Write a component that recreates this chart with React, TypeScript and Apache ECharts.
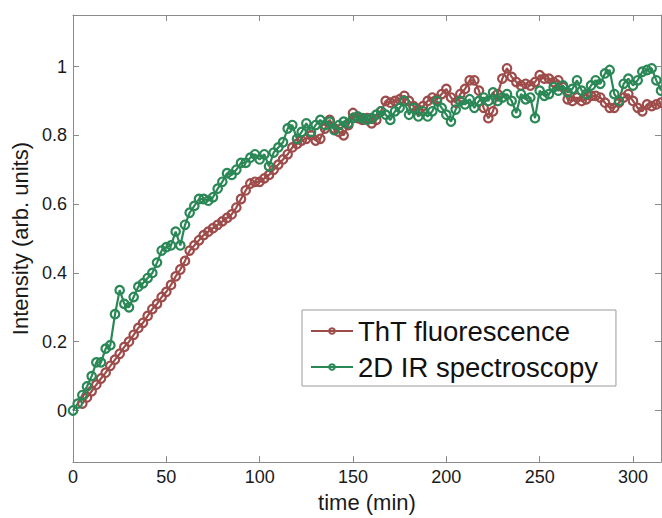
import React, { useEffect, useRef } from "react";
import * as echarts from "echarts";

// time samples (min)
const times: number[] = [
  0, 2.5, 5, 7.5, 10, 12.5, 15, 17.5, 20, 22.5,
  25, 27.5, 30, 32.5, 35, 37.5, 40, 42.5, 45, 47.5,
  50, 52.5, 55, 57.5, 60, 62.5, 65, 67.5, 70, 72.5,
  75, 77.5, 80, 82.5, 85, 87.5, 90, 92.5, 95, 97.5,
  100, 102.5, 105, 107.5, 110, 112.5, 115, 117.5, 120, 122.5,
  125, 127.5, 130, 132.5, 135, 137.5, 140, 142.5, 145, 147.5,
  150, 152.5, 155, 157.5, 160, 162.5, 165, 167.5, 170, 172.5,
  175, 177.5, 180, 182.5, 185, 187.5, 190, 192.5, 195, 197.5,
  200, 202.5, 205, 207.5, 210, 212.5, 215, 217.5, 220, 222.5,
  225, 227.5, 230, 232.5, 235, 237.5, 240, 242.5, 245, 247.5,
  250, 252.5, 255, 257.5, 260, 262.5, 265, 267.5, 270, 272.5,
  275, 277.5, 280, 282.5, 285, 287.5, 290, 292.5, 295, 297.5,
  300, 302.5, 305, 307.5, 310, 312.5, 315,
];

// 2D IR spectroscopy (starts at t = 0)
const irValues: number[] = [
  0, 0.02, 0.045, 0.07, 0.1, 0.14, 0.14, 0.18, 0.19, 0.28,
  0.35, 0.31, 0.3, 0.33, 0.36, 0.37, 0.385, 0.4, 0.43, 0.465,
  0.475, 0.48, 0.52, 0.48, 0.54, 0.575, 0.595, 0.615, 0.615, 0.61,
  0.62, 0.645, 0.665, 0.69, 0.685, 0.7, 0.72, 0.72, 0.735, 0.745,
  0.73, 0.745, 0.71, 0.75, 0.765, 0.78, 0.82, 0.83, 0.79, 0.81,
  0.835, 0.81, 0.83, 0.845, 0.83, 0.84, 0.815, 0.83, 0.84, 0.835,
  0.85, 0.855, 0.85, 0.845, 0.85, 0.86, 0.87, 0.86, 0.845, 0.87,
  0.88, 0.9, 0.86, 0.88, 0.855, 0.87, 0.855, 0.87, 0.9, 0.88,
  0.86, 0.84, 0.875, 0.9, 0.89, 0.905, 0.88, 0.9, 0.91, 0.9,
  0.925, 0.9, 0.91, 0.92, 0.9, 0.865, 0.92, 0.905, 0.91, 0.85,
  0.93, 0.915, 0.92, 0.94, 0.93, 0.945, 0.925, 0.935, 0.96, 0.93,
  0.92, 0.945, 0.96, 0.95, 0.98, 0.99, 0.92, 0.9, 0.95, 0.965,
  0.945, 0.96, 0.985, 0.99, 0.995, 0.96, 0.93,
];

// ThT fluorescence (starts at t = 5, i.e. times index 2)
const thtStartIndex = 2;
const thtValues: number[] = [
  0.02, 0.038, 0.056, 0.075, 0.093, 0.11, 0.13, 0.148,
  0.165, 0.185, 0.2, 0.22, 0.24, 0.255, 0.275, 0.295, 0.31, 0.33,
  0.345, 0.365, 0.39, 0.41, 0.435, 0.465, 0.48, 0.495, 0.51, 0.52,
  0.53, 0.54, 0.55, 0.56, 0.57, 0.59, 0.615, 0.64, 0.66, 0.665,
  0.665, 0.675, 0.685, 0.7, 0.715, 0.73, 0.745, 0.765, 0.775, 0.785,
  0.79, 0.8, 0.785, 0.79, 0.82, 0.845, 0.82, 0.81, 0.8, 0.83,
  0.865, 0.85, 0.845, 0.85, 0.835, 0.845, 0.87, 0.9, 0.895, 0.9,
  0.905, 0.915, 0.9, 0.885, 0.875, 0.885, 0.9, 0.91, 0.905, 0.92,
  0.935, 0.91, 0.895, 0.92, 0.935, 0.96, 0.96, 0.93, 0.88, 0.85,
  0.87, 0.92, 0.965, 0.995, 0.97, 0.955, 0.945, 0.95, 0.945, 0.955,
  0.975, 0.965, 0.965, 0.955, 0.96, 0.94, 0.905, 0.9, 0.91, 0.9,
  0.905, 0.915, 0.915, 0.91, 0.895, 0.88, 0.88, 0.895, 0.91, 0.92,
  0.9, 0.88, 0.87, 0.89, 0.885, 0.89, 0.895,
];

const xTicks: number[] = [0, 50, 100, 150, 200, 250, 300];
const yTicks: number[] = [0, 0.2, 0.4, 0.6, 0.8, 1];

const seriesNames = ["ThT fluorescence", "2D IR spectroscopy"];
const RED = "#9e4c4a";
const GREEN = "#2a8856";
const FONT = "Liberation Sans";
const AXIS_COLOR = "#8a8a8a";

export default function App() {
  const ref = useRef<HTMLDivElement>(null);

  useEffect(() => {
    if (!ref.current) return;
    const chart = echarts.init(ref.current, undefined, { renderer: "svg" });

    const irData = irValues.map((v, i) => [times[i], v]);
    const thtData = thtValues.map((v, i) => [times[i + thtStartIndex], v]);

    const baseX = {
      type: "value" as const,
      min: 0,
      max: 315,
      splitLine: { show: false },
      axisLine: { show: true, onZero: false, lineStyle: { color: AXIS_COLOR, width: 1 } },
      axisTick: {
        show: true,
        inside: true,
        length: 6,
        customValues: xTicks,
        lineStyle: { color: AXIS_COLOR },
      },
    };
    const baseY = {
      type: "value" as const,
      min: -0.15,
      max: 1.15,
      splitLine: { show: false },
      axisLine: { show: true, onZero: false, lineStyle: { color: AXIS_COLOR, width: 1 } },
      axisTick: {
        show: true,
        inside: true,
        length: 6,
        customValues: yTicks,
        lineStyle: { color: AXIS_COLOR },
      },
    };

    const mkSeries = (name: string, color: string, data: number[][]) => ({
      name,
      type: "line",
      data,
      symbol: "circle",
      symbolSize: 8.5,
      showAllSymbol: true,
      itemStyle: { color: "rgba(255,255,255,0)", borderColor: color, borderWidth: 2.2 },
      lineStyle: { color, width: 2.2 },
      emphasis: { disabled: true },
    });

    chart.setOption({
      animation: false,
      textStyle: { fontFamily: FONT },
      grid: { left: 73, right: 1, top: 15, bottom: 53, containLabel: false },
      xAxis: [
        {
          ...baseX,
          position: "bottom",
          name: "time (min)",
          nameLocation: "middle",
          nameGap: 24,
          nameTextStyle: { fontSize: 22, color: "#1a1a1a", fontFamily: FONT },
          axisLabel: {
            show: true,
            customValues: xTicks,
            fontSize: 18,
            color: "#1a1a1a",
            margin: 6,
            fontFamily: FONT,
          },
        },
        {
          ...baseX,
          position: "top",
          axisLabel: { show: false },
        },
      ],
      yAxis: [
        {
          ...baseY,
          position: "left",
          name: "Intensity (arb. units)",
          nameLocation: "middle",
          nameGap: 40,
          nameTextStyle: { fontSize: 22, color: "#1a1a1a", fontFamily: FONT },
          axisLabel: {
            show: true,
            customValues: yTicks,
            fontSize: 18,
            color: "#1a1a1a",
            margin: 6,
            fontFamily: FONT,
            formatter: (v: number) => String(Math.round(v * 10) / 10),
          },
        },
        {
          ...baseY,
          position: "right",
          axisLabel: { show: false },
        },
      ],
      legend: {
        data: seriesNames,
        orient: "vertical",
        left: 302,
        top: 310,
        itemWidth: 42,
        itemHeight: 7,
        itemGap: 6,
        padding: [6, 18, 4, 8],
        backgroundColor: "#ffffff",
        borderColor: "#9a9a9a",
        borderWidth: 1,
        selectedMode: false,
        textStyle: { fontSize: 27.5, color: "#111", fontFamily: FONT, lineHeight: 30 },
      },
      series: [
        mkSeries(seriesNames[0], RED, thtData),
        mkSeries(seriesNames[1], GREEN, irData),
      ],
    });

    return () => chart.dispose();
  }, []);

  return (
    <div
      ref={ref}
      style={{ position: "fixed", left: 0, top: 0, width: 662, height: 518, background: "#fff" }}
    />
  );
}
